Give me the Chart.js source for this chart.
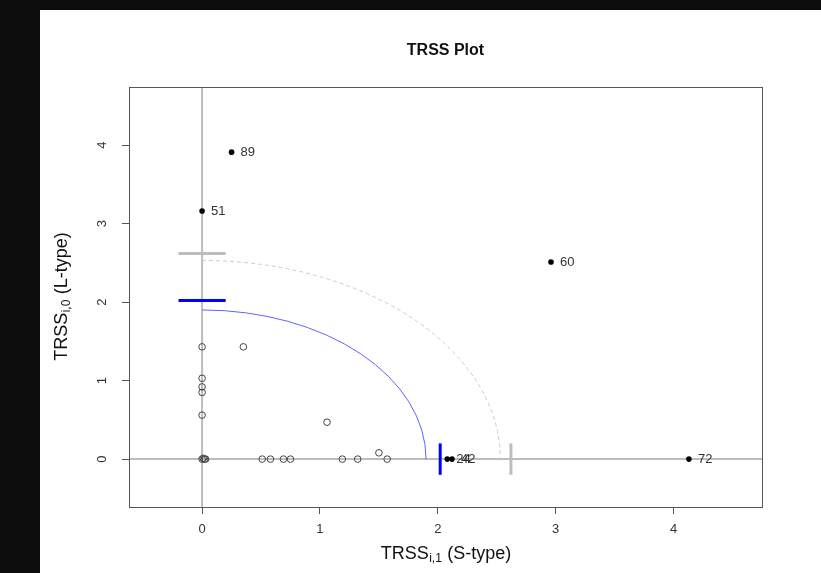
<!DOCTYPE html>
<html lang="en">
<head>
<meta charset="UTF-8" />
<title>TRSS Plot</title>
<script src="https://cdn.jsdelivr.net/npm/chart.js@4.4.1/dist/chart.umd.min.js"></script>
<style>
  html, body { margin: 0; background: #0c0c0c; }
  #wrap { position: absolute; left: 40px; top: 10px; width: 781px; height: 563px; background: #fff; }
</style>
</head>
<body>
<div id="wrap"><canvas id="chart" width="781" height="563"></canvas></div>
<script>
const xTicks = [0, 1, 2, 3, 4]
const yTicks = [0, 1, 2, 3, 4]
const xRange = [-0.62, 4.75]
const yRange = [-0.61, 4.74]

// observations inside the cutoffs (open circles)
const openX = [0, 0.35, 0, 0, 0, 0, 0, 0.01, 0.02, 0.03, 0.51, 0.58, 0.69, 0.75, 1.06, 1.19, 1.32, 1.50, 1.57]
const openY = [1.43, 1.43, 1.03, 0.92, 0.85, 0.56, 0, 0.01, 0, 0, 0, 0, 0, 0, 0.47, 0, 0, 0.08, 0]

// flagged observations (filled points with ids)
const flagIds = ['89', '51', '60', '24', '42', '72']
const flagX = [0.25, 0, 2.96, 2.08, 2.12, 4.13]
const flagY = [3.91, 3.16, 2.51, 0, 0, 0]

// cutoffs
const blueCut = 2.02
const blueRadius = 1.9
const grayCut = 2.62
const grayRadius = 2.53
const barHalf = 0.2

const FONT = '"Liberation Sans", Arial, sans-serif'

function seg(x1, y1, x2, y2) {
  return [{ x: x1, y: y1 }, { x: x2, y: y2 }]
}

// draws "TRSS" + subscript + rest, centred at 0,0
function subTitle(ctx, main, sub, rest) {
  const big = '18px ' + FONT, small = '12px ' + FONT
  ctx.font = big
  const w1 = ctx.measureText(main).width
  const w3 = ctx.measureText(rest).width
  ctx.font = small
  const w2 = ctx.measureText(sub).width
  let x = -(w1 + w2 + w3) / 2
  ctx.textAlign = 'left'
  ctx.textBaseline = 'middle'
  ctx.fillStyle = '#111'
  ctx.font = big
  ctx.fillText(main, x, 0)
  x += w1
  ctx.font = small
  ctx.fillText(sub, x + 0.5, 5)
  x += w2 + 1
  ctx.font = big
  ctx.fillText(rest, x, 0)
}

const decor = {
  id: 'decor',
  beforeDatasetsDraw(chart) {
    const { ctx, chartArea: a, scales: { x, y } } = chart
    ctx.save()
    // reference lines at 0
    ctx.strokeStyle = '#bdbdbd'
    ctx.lineWidth = 2
    ctx.beginPath()
    ctx.moveTo(x.getPixelForValue(0), a.top)
    ctx.lineTo(x.getPixelForValue(0), a.bottom)
    ctx.moveTo(a.left, y.getPixelForValue(0))
    ctx.lineTo(a.right, y.getPixelForValue(0))
    ctx.stroke()
    // cutoff arcs
    const cx = x.getPixelForValue(0), cy = y.getPixelForValue(0)
    ctx.lineWidth = 1
    ctx.strokeStyle = '#cccccc'
    ctx.setLineDash([4, 3])
    ctx.beginPath()
    ctx.ellipse(cx, cy, x.getPixelForValue(grayRadius) - cx, cy - y.getPixelForValue(grayRadius), 0, -Math.PI / 2, 0)
    ctx.stroke()
    ctx.setLineDash([])
    ctx.strokeStyle = '#6262ff'
    ctx.beginPath()
    ctx.ellipse(cx, cy, x.getPixelForValue(blueRadius) - cx, cy - y.getPixelForValue(blueRadius), 0, -Math.PI / 2, 0)
    ctx.stroke()
    ctx.restore()
  },
  afterDraw(chart) {
    const { ctx, chartArea: a, scales: { x, y } } = chart
    ctx.save()
    // box
    ctx.strokeStyle = '#555'
    ctx.lineWidth = 1
    ctx.strokeRect(a.left + 0.5, a.top + 0.5, a.right - a.left, a.bottom - a.top)
    // point ids
    ctx.font = '13px ' + FONT
    ctx.fillStyle = '#333'
    ctx.textAlign = 'left'
    ctx.textBaseline = 'middle'
    flagIds.forEach((id, i) => {
      ctx.fillText(id, x.getPixelForValue(flagX[i]) + 9, y.getPixelForValue(flagY[i]))
    })
    // y tick labels, rotated like R
    ctx.font = '13px ' + FONT
    ctx.fillStyle = '#333'
    ctx.textAlign = 'center'
    yTicks.forEach(v => {
      ctx.save()
      ctx.translate(a.left - 27, y.getPixelForValue(v))
      ctx.rotate(-Math.PI / 2)
      ctx.fillText(String(v), 0, 0)
      ctx.restore()
    })
    // title
    const mid = (a.left + a.right) / 2
    ctx.font = 'bold 16px ' + FONT
    ctx.fillStyle = '#111'
    ctx.fillText('TRSS Plot', mid, 41)
    // axis titles
    ctx.save()
    ctx.translate(mid, 544)
    subTitle(ctx, 'TRSS', 'i,1', ' (S-type)')
    ctx.restore()
    ctx.save()
    ctx.translate(22, (a.top + a.bottom) / 2)
    ctx.rotate(-Math.PI / 2)
    subTitle(ctx, 'TRSS', 'i,0', ' (L-type)')
    ctx.restore()
    ctx.restore()
  }
}

const ctx = document.getElementById('chart')
const myChart = new Chart(ctx, {
  type: 'scatter',
  data: {
    datasets: [
      {
        data: openX.map((v, i) => ({ x: v, y: openY[i] })),
        pointRadius: 3.3,
        pointBorderWidth: 1,
        pointBorderColor: '#444',
        pointBackgroundColor: 'rgba(0,0,0,0)',
      },
      {
        data: flagX.map((v, i) => ({ x: v, y: flagY[i] })),
        pointRadius: 2.8,
        pointBorderWidth: 0,
        pointBackgroundColor: '#000',
      },
      {
        data: seg(-barHalf, blueCut, barHalf, blueCut),
        showLine: true, borderColor: '#0000ff', borderWidth: 3, pointRadius: 0,
      },
      {
        data: seg(blueCut, -barHalf, blueCut, barHalf),
        showLine: true, borderColor: '#0000ff', borderWidth: 3, pointRadius: 0,
      },
      {
        data: seg(-barHalf, grayCut, barHalf, grayCut),
        showLine: true, borderColor: '#bdbdbd', borderWidth: 3, pointRadius: 0,
      },
      {
        data: seg(grayCut, -barHalf, grayCut, barHalf),
        showLine: true, borderColor: '#bdbdbd', borderWidth: 3, pointRadius: 0,
      },
    ],
  },
  options: {
    responsive: false,
    animation: false,
    layout: { padding: { left: 0, top: 77, right: 59, bottom: 0 } },
    plugins: { legend: { display: false }, tooltip: { enabled: false } },
    scales: {
      x: {
        type: 'linear',
        min: xRange[0],
        max: xRange[1],
        afterBuildTicks: (s) => { s.ticks = xTicks.map(v => ({ value: v })) },
        afterFit: (s) => { s.height = 66 },
        grid: { drawOnChartArea: false, tickLength: 7, color: '#555', tickColor: '#555' },
        border: { display: false },
        ticks: { font: { family: FONT, size: 13 }, color: '#333', padding: 8, maxRotation: 0 },
      },
      y: {
        type: 'linear',
        min: yRange[0],
        max: yRange[1],
        afterBuildTicks: (s) => { s.ticks = yTicks.map(v => ({ value: v })) },
        afterFit: (s) => { s.width = 89 },
        grid: { drawOnChartArea: false, tickLength: 7, color: '#555', tickColor: '#555' },
        border: { display: false },
        ticks: { font: { family: FONT, size: 13 }, color: 'rgba(0,0,0,0)' },
      },
    },
  },
  plugins: [decor],
})
</script>
</body>
</html>
